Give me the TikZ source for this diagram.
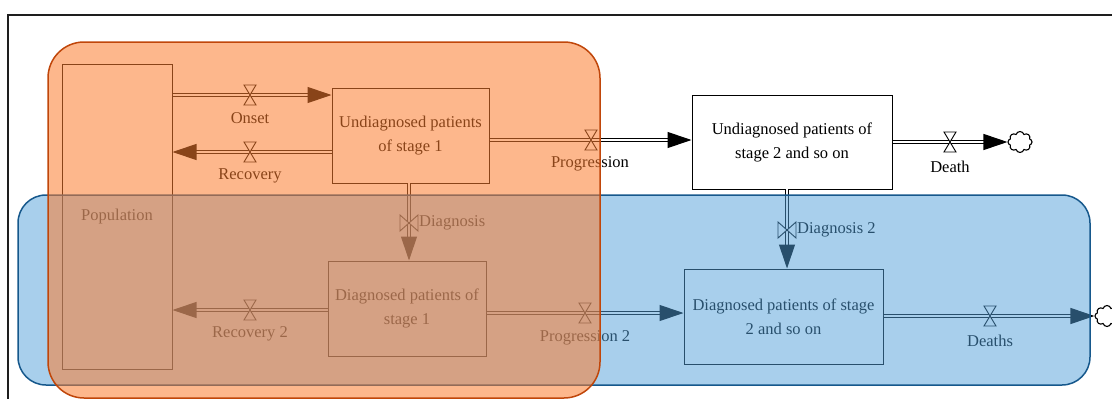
\documentclass[tikz,border=0pt]{standalone}
\usepackage{fontspec}
\setmainfont{Liberation Serif}
\usetikzlibrary{arrows.meta,shapes.symbols}
\definecolor{frameC}{RGB}{30,30,30}
\definecolor{blueF}{RGB}{81,159,217}
\definecolor{blueB}{RGB}{22,88,140}
\definecolor{orangeF}{RGB}{251,124,46}
\definecolor{orangeB}{RGB}{192,70,10}
\tikzset{
  valveh/.pic={\draw[fill=white,line width=0.9pt] (-6,-10) -- (6,-10) -- (0,0) -- cycle (-6,10) -- (6,10) -- (0,0) -- cycle;},
  valvev/.pic={\draw[fill=white,line width=0.9pt] (-9,-8) -- (-9,8) -- (0,0) -- cycle (9,-8) -- (9,8) -- (0,0) -- cycle;}
}
\begin{document}
\begin{tikzpicture}[x=1pt,y=-1pt,
  font=\fontsize{16.5}{24}\selectfont,
  box/.style={draw, line width=1pt, align=center, inner sep=0pt},
  pipe/.style={draw, line width=1.1pt, double=white, double distance=2.6pt,
               -{Triangle[length=24pt,width=16pt]}},
  lbl/.style={inner sep=0pt},
  sink/.style={cloud, cloud puffs=8, draw, line width=1.1pt, minimum width=24pt,
               minimum height=21pt, inner sep=0pt, aspect=1.1},
  region/.style={rounded corners=#1}]
\useasboundingbox (0,0) rectangle (1112,399);
\draw[line width=1.3pt, frameC] (8,430) -- (8,15) -- (1140,15);

% stocks
\node[box, minimum width=110pt, minimum height=305pt] (pop) at (117,216.5) {Population};
\node[box, minimum width=157pt, minimum height=95pt] (u1) at (410.5,135.5) {Undiagnosed patients\\of stage 1};
\node[box, minimum width=200pt, minimum height=94pt] (u2) at (792,142) {Undiagnosed patients of\\stage 2 and so on};
\node[box, minimum width=158pt, minimum height=95pt] (d1) at (407,308.5) {Diagnosed patients of\\stage 1};
\node[box, minimum width=199pt, minimum height=95pt] (d2) at (783.5,316.5) {Diagnosed patients of stage\\2 and so on};
\node[sink] (c1) at (1020,142) {};
\node[sink] (c2) at (1107,316) {};

% flows
\draw[pipe] (pop.east |- 0,95) -- (u1.west |- 0,95);
\draw[pipe] (u1.west |- 0,152) -- (pop.east |- 0,152);
\draw[pipe] (u1.east |- 0,140) -- (u2.west |- 0,140);
\draw[pipe] (u2.east |- 0,142) -- (c1.west);
\draw[pipe] (d1.west |- 0,310) -- (pop.east |- 0,310);
\draw[pipe] (d1.east |- 0,313) -- (d2.west |- 0,313);
\draw[pipe] (d2.east |- 0,316) -- (c2.west);
\coordinate (dg1) at (409,183);
\coordinate (dg2) at (787,189);
\draw[pipe] (dg1) -- (dg1 |- d1.north);
\draw[pipe] (dg2) -- (dg2 |- d2.north);

% valves
\pic at (250,95) {valveh};
\pic at (250,152) {valveh};
\pic at (591,140) {valveh};
\pic at (950,142) {valveh};
\pic at (250,310) {valveh};
\pic at (585,313) {valveh};
\pic at (990,316) {valveh};
\pic at (409,223) {valvev};
\pic at (787,230) {valvev};

% labels
\node[lbl] (lOnset) at (250,118) {Onset};
\node[lbl] (lRec) at (250,176) {Recovery};
\node[lbl] (lProg) at (590,164) {Progression};
\node[lbl] (lDeath) at (950,167) {Death};
\node[lbl] (lRec2) at (250,334) {Recovery 2};
\node[lbl] (lProg2) at (585,338) {Progression 2};
\node[lbl] (lDeaths) at (990,341) {Deaths};
\node[lbl, anchor=west] (lDiag) at (419,223) {Diagnosis};
\node[lbl, anchor=west] (lDiag2) at (797,230) {Diagnosis 2};

% translucent regions
\fill[blueF, fill opacity=0.5, region=28pt] (18,195) rectangle (1090,385);
\draw[blueB, line width=1.5pt, region=28pt] (18,195) rectangle (1090,385);
\fill[orangeF, fill opacity=0.55, region=36pt] (48,42) rectangle (600,398);
\draw[orangeB, line width=1.5pt, region=36pt] (48,42) rectangle (600,398);
\end{tikzpicture}
\end{document}
